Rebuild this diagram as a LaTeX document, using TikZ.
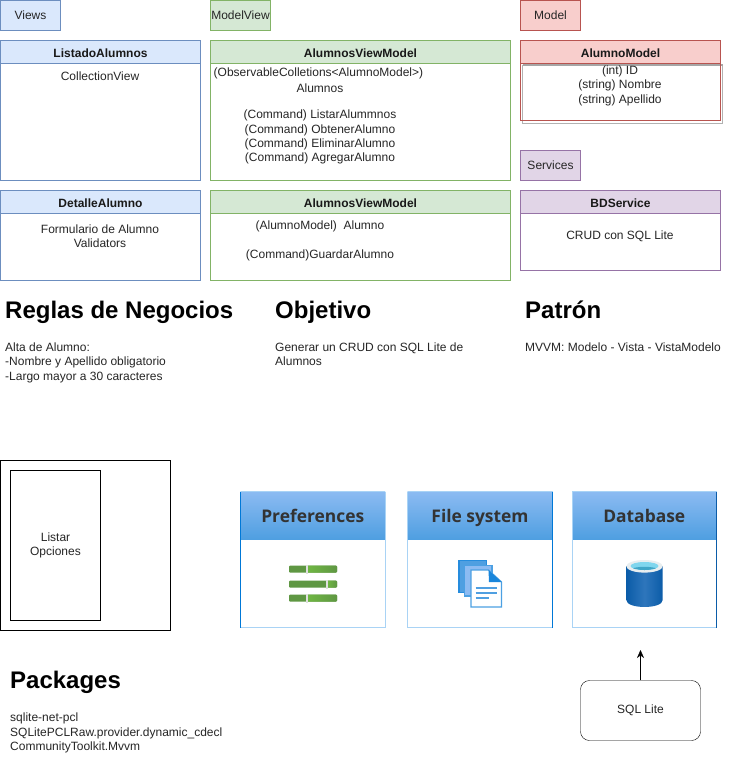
\documentclass[tikz,border=0pt]{standalone}
\usepackage{fontspec}
\setmainfont{Liberation Sans}
\newfontfamily\cardfont{Open Sans}
\usetikzlibrary{arrows.meta}
\definecolor{blueF}{HTML}{DAE8FC}\definecolor{blueD}{HTML}{6C8EBF}
\definecolor{greenF}{HTML}{D5E8D4}\definecolor{greenD}{HTML}{82B366}
\definecolor{redF}{HTML}{F8CECC}\definecolor{redD}{HTML}{B85450}
\definecolor{purF}{HTML}{E1D5E7}\definecolor{purD}{HTML}{9673A6}
\definecolor{cardTop}{HTML}{8CBBF2}\definecolor{cardBot}{HTML}{4F9FE1}
\definecolor{cardLine}{HTML}{0078D7}\definecolor{cardPale}{HTML}{A9D3F5}
\definecolor{barDark}{HTML}{5F9743}\definecolor{barLight}{HTML}{70B843}
\definecolor{dbDark}{HTML}{0B5CA8}\definecolor{dbMid}{HTML}{2E76BC}
\definecolor{dbRim}{HTML}{E8EEF0}\definecolor{dbIn}{HTML}{7FD6EE}\definecolor{dbWater}{HTML}{3FA6C8}
\tikzset{
  x=1pt,y=-1pt,
  txt/.style={font=\fontsize{12}{14.4}\selectfont,inner sep=0pt,align=center,text=black!85},
  ftxt/.style={txt,yshift=-0.8pt},
  ltxt/.style={txt,align=left,anchor=north west},
  hd/.style={font=\fontsize{12}{14}\selectfont\bfseries,inner sep=0pt,text=black!90,yshift=-0.5pt},
  big/.style={font=\fontsize{24}{28}\selectfont\bfseries,inner sep=0pt,anchor=base west,text=black},
  bluebox/.style={draw=blueD,fill=blueF},
  greenbox/.style={draw=greenD,fill=greenF},
  redbox/.style={draw=redD,fill=redF},
  purbox/.style={draw=purD,fill=purF},
  cardtitle/.style={font=\cardfont\fontsize{17.4}{20}\selectfont\bfseries,inner sep=0pt,text=black!80,anchor=base},
  cardhead/.style={top color=cardTop,bottom color=cardBot,draw=none},
}
\newcommand{\umlbox}[8]{% style, name, x0,y0,x1,y1, title, headerbottom
  \draw[#1,fill=white] (#3,#4) rectangle (#5,#6);
  \draw[#1] (#3,#4) rectangle (#5,#8);
  \node[hd] (#2) at ({(#3+#5)/2},{(#4+#8)/2+0.5}) {#7};
}
\newcommand{\card}[6]{% name,x0,width,title,left colour,right colour
  \fill[white] (#2,491.5) rectangle ({#2+#3},627.5);
  \fill[cardhead] (#2,491.5) rectangle ({#2+#3},539);
  \draw[cardPale,line width=1pt] (#2,627.5) -- ({#2+#3},627.5);
  \draw[#6,line width=1pt] ({#2+#3},491.5) -- ({#2+#3},627.5);
  \draw[#5,line width=1pt] (#2,491.5) -- (#2,627.5);
  \draw[cardPale,line width=1pt] (#2,491.5) -- ({#2+#3},491.5);
  \node[cardtitle] (#1) at ({#2+#3/2},522) {#4};
}
\begin{document}
\begin{tikzpicture}
\useasboundingbox (0,0) rectangle (751,782);
\fill[white] (0,0) rectangle (751,782);
% tabs
\node[bluebox,minimum width=60pt,minimum height=30pt,inner sep=0pt,txt] (views) at (30.5,15.5) {Views};
\node[greenbox,minimum width=60pt,minimum height=30pt,inner sep=0pt,txt] (modelview) at (240.5,15.5) {ModelView};
\node[redbox,minimum width=60pt,minimum height=30pt,inner sep=0pt,txt] (model) at (550.5,15.5) {Model};
\node[purbox,minimum width=60pt,minimum height=30pt,inner sep=0pt,txt] (services) at (550.5,165.5) {Services};
% class boxes
\umlbox{bluebox}{listado}{0.5}{40.5}{200.5}{180.5}{ListadoAlumnos}{63.5}
\node[ftxt] (coll) at (100,75) {CollectionView};
\umlbox{greenbox}{avm}{210.5}{40.5}{510.5}{180.5}{AlumnosViewModel}{63.5}
\node[ltxt] (obs) at (213.5,67.5) {(ObservableColletions<AlumnoModel>)};
\node[ftxt] (alu) at (320,87) {Alumnos};
\node[ftxt] (c1) at (320,115) {(Command) ListarAlummnos};
\node[ftxt] (c2) at (320,130) {(Command) ObtenerAlumno};
\node[ftxt] (c3) at (320,144) {(Command) EliminarAlumno};
\node[ftxt] (c4) at (320,158) {(Command) AgregarAlumno};
% AlumnoModel with grey offset body
\fill[white] (520.5,40.5) rectangle (720.5,120.5);
\draw[black!30] (522.5,65.5) rectangle (722.5,123);
\draw[black!35,line width=1.5pt] (522.5,65) -- (722.5,65);
\draw[redD,fill=redF] (520.5,40.5) rectangle (720.5,63.5);
\draw[redD] (520.5,40.5) rectangle (720.5,120.5);
\node[hd] (am) at (620.5,52.5) {AlumnoModel};
\node[ftxt] (id) at (620,71) {(int) ID};
\node[ftxt] (nom) at (620,85) {(string) Nombre};
\node[ftxt] (ape) at (620,100) {(string) Apellido};
\umlbox{bluebox}{detalle}{0.5}{190.5}{200.5}{280.5}{DetalleAlumno}{213.5}
\node[ftxt] (form) at (100,228) {Formulario de Alumno};
\node[ftxt] (vali) at (100,242) {Validators};
\umlbox{greenbox}{avm2}{210.5}{190.5}{510.5}{280.5}{AlumnosViewModel}{213.5}
\node[ftxt] (al2) at (320,226) {(AlumnoModel)~~Alumno};
\node[ftxt] (gu) at (320,255) {(Command)GuardarAlumno};
\umlbox{purbox}{bd}{520.5}{190.5}{720.5}{270.5}{BDService}{213.5}
\node[ftxt] (crud) at (620,235) {CRUD con SQL Lite};
% headings
\node[big] (h1) at (5,318) {Reglas de Negocios};
\node[big] (h2) at (275,318) {Objetivo};
\node[big] (h3) at (525,318) {Patrón};
\node[big] (h4) at (10,688) {Packages};
\node[ltxt] (t1) at (5,342.5) {Alta de Alumno:\\-Nombre y Apellido obligatorio\\-Largo mayor a 30 caracteres};
\node[ltxt] (t2) at (275,342.5) {Generar un CRUD con SQL Lite de\\Alumnos};
\node[ltxt] (t3) at (525,342.5) {MVVM: Modelo - Vista - VistaModelo};
\node[ltxt] (t4) at (10,713) {sqlite-net-pcl\\SQLitePCLRaw.provider.dynamic\_cdecl\\CommunityToolkit.Mvvm};
% phone mock
\draw[black] (0.5,460.5) rectangle (170.5,630.5);
\node[draw=black,minimum width=90pt,minimum height=150pt,inner sep=0pt,txt] (listar) at (55.5,545.5) {Listar\\Opciones};
% cards
\card{pref}{240.5}{144.5}{Preferences}{cardLine}{cardPale}
\card{fs}{407.5}{145}{File system}{cardPale}{cardLine}
\card{db}{572}{144.5}{Database}{cardPale}{dbDark}
% preferences icon
\foreach \yy/\kn in {569/306.7,584/327,598/306.7}{
  \fill[barDark,rounded corners=1pt] (289,\yy-3.5) rectangle (337,\yy+3.5);
  \shade[left color=barLight,right color=barDark,rounded corners=1pt] (\kn,\yy-3.5) rectangle (337,\yy+3.5);
  \fill[black!12] (\kn-1.2,\yy-4.5) rectangle (\kn+1.2,\yy+4.5);
}
% file icon
\draw[cardLine!85,fill=cardBot,line width=1.2pt] (459,560.5) rectangle (486.5,592.5);
\draw[cardLine!70,fill=cardTop,line width=1.2pt] (464.5,565.5) rectangle (492,596);
\draw[cardLine!70,fill=white,line width=1.2pt] (471,570) -- (488.5,570) -- (501.5,582) -- (501.5,607) -- (471,607) -- cycle;
\fill[cardLine!90] (488.5,570) -- (501.5,582) -- (489,582) -- cycle;
\foreach \yy/\xe in {587.7/497,592.9/497,598/489}{
  \draw[cardBot,line width=2pt] (475.5,\yy) -- (\xe,\yy);
}
% database icon
\shade[left color=dbDark,right color=dbDark,middle color=dbMid]
  (626.3,566) -- (626.3,600) .. controls (626.3,609.3) and (662.7,609.3) .. (662.7,600) -- (662.7,566) -- cycle;
\fill[dbRim] (644.5,566.3) ellipse (18.2 and 6.3);
\fill[dbIn] (644.5,566) ellipse (14 and 4);
\begin{scope}
  \clip (644.5,566) ellipse (14 and 4);
  \fill[dbWater] (644.5,570) ellipse (14 and 3.2);
\end{scope}
% SQL Lite
\node[draw=black,rounded corners=9pt,minimum width=120pt,minimum height=60pt,inner sep=0pt,txt] (sql) at (640.5,710.5) {SQL Lite};
\coordinate (dbin) at (640.5,650);
\draw[-{Stealth[length=8pt,width=7pt]},black] (sql) -- (dbin);
\end{tikzpicture}
\end{document}
